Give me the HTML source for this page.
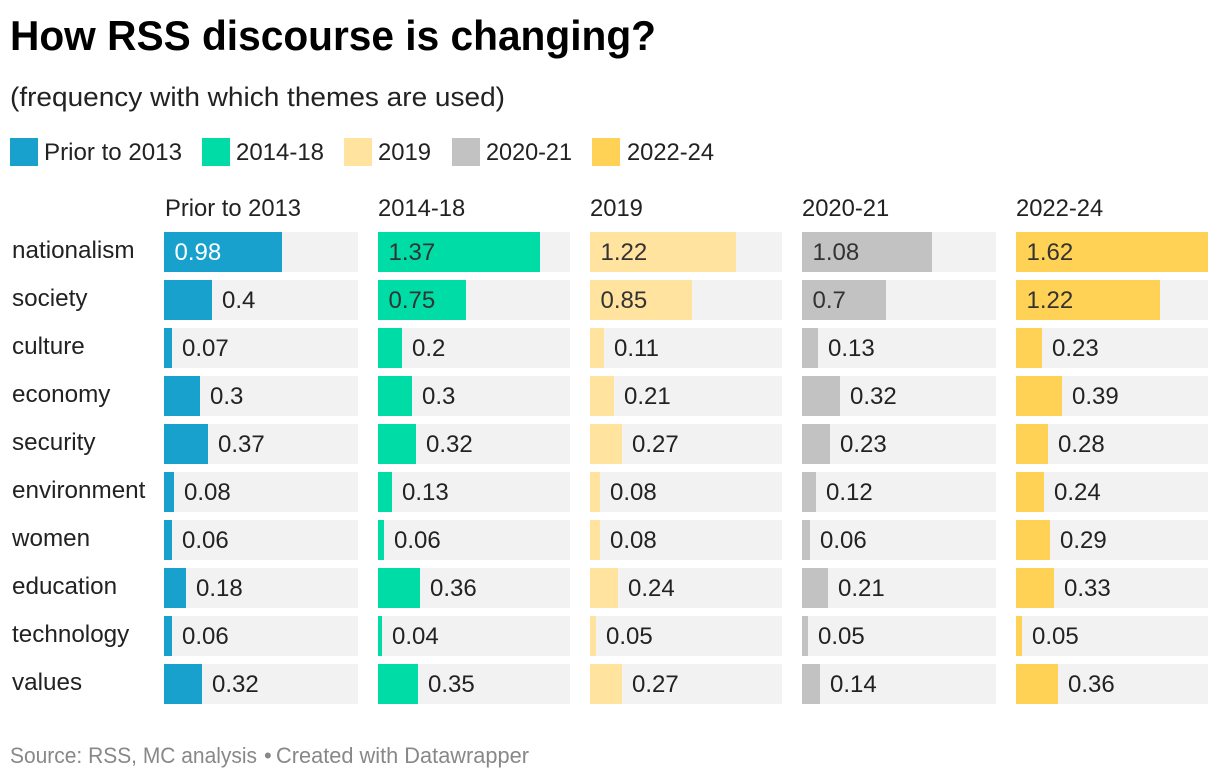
<!DOCTYPE html>
<html lang="en">
<head>
<meta charset="utf-8">
<title>How RSS discourse is changing?</title>
<style>
html,body{margin:0;padding:0;background:#fff;width:1220px;height:780px;overflow:hidden}
svg{display:block}
text{font-family:"Liberation Sans",sans-serif;fill:#222}
</style>
</head>
<body>
<svg id="chart" xmlns="http://www.w3.org/2000/svg" width="1220" height="780" viewBox="0 0 1220 780">
  <text x="10" y="50" font-size="42" font-weight="700" style="fill:#000" textLength="646" lengthAdjust="spacingAndGlyphs">How RSS discourse is changing?</text>
  <text x="10" y="106" font-size="27" textLength="495" lengthAdjust="spacingAndGlyphs">(frequency with which themes are used)</text>

  <g font-size="24">
    <rect x="10" y="138" width="28" height="28" fill="#18a1cd"/>
    <text x="44" y="160" textLength="138" lengthAdjust="spacingAndGlyphs">Prior to 2013</text>
    <rect x="202" y="138" width="28" height="28" fill="#00dca6"/>
    <text x="236" y="160" textLength="88" lengthAdjust="spacingAndGlyphs">2014-18</text>
    <rect x="344" y="138" width="28" height="28" fill="#ffe39f"/>
    <text x="378" y="160" textLength="53" lengthAdjust="spacingAndGlyphs">2019</text>
    <rect x="452" y="138" width="28" height="28" fill="#c2c2c2"/>
    <text x="486" y="160" textLength="86" lengthAdjust="spacingAndGlyphs">2020-21</text>
    <rect x="592" y="138" width="28" height="28" fill="#ffd155"/>
    <text x="627" y="160" textLength="87" lengthAdjust="spacingAndGlyphs">2022-24</text>
  </g>

  <g id="plot"></g>

  <g font-size="22" style="fill:#888">
    <text x="10" y="763" style="fill:#888" textLength="247" lengthAdjust="spacingAndGlyphs">Source: RSS, MC analysis</text>
    <text x="264" y="763" style="fill:#888">•</text>
    <text x="276" y="763" style="fill:#888" textLength="253" lengthAdjust="spacingAndGlyphs">Created with Datawrapper</text>
  </g>
</svg>

<script>
// Data
const themes = ["nationalism", "society", "culture", "economy", "security", "environment", "women", "education", "technology", "values"];
const periods = ["Prior to 2013", "2014-18", "2019", "2020-21", "2022-24"];
const priorTo2013 = [0.98, 0.4, 0.07, 0.3, 0.37, 0.08, 0.06, 0.18, 0.06, 0.32];
const y2014to18 = [1.37, 0.75, 0.2, 0.2951, 0.32, 0.126, 0.059, 0.36, 0.04, 0.3455];
const y2019 = [1.224, 0.853, 0.11, 0.21, 0.27, 0.08, 0.08, 0.24, 0.05, 0.27];
const y2020to21 = [1.08, 0.7, 0.13, 0.32, 0.23, 0.12, 0.06, 0.21, 0.05, 0.143];
const y2022to24 = [1.62, 1.22, 0.226, 0.39, 0.276, 0.24, 0.29, 0.326, 0.05, 0.36];
const seriesValues = [priorTo2013, y2014to18, y2019, y2020to21, y2022to24];

// Styling and layout
const seriesColors = ["#18a1cd", "#00dca6", "#ffe39f", "#c2c2c2", "#ffd155"];
const panelLeft = [164, 378, 590, 802, 1016];
const panelRight = [358, 570, 782, 996, 1208];
const rowTop = 232, rowStep = 48, rowHeight = 40;
const labelCondense = 1.01;
const headerCondense = 0.99;

const maxValue = Math.max.apply(null, seriesValues.map(function (s) { return Math.max.apply(null, s); }));
const NS = "http://www.w3.org/2000/svg";
const plot = document.getElementById("plot");

function yScale(rowIndex) { return rowTop + rowIndex * rowStep; }
function widthScale(value, panelIndex) {
  const full = panelRight[panelIndex] - panelLeft[panelIndex];
  return Math.round(value / maxValue * full / 2) * 2;
}
function formatValue(value) { return String(Math.round(value * 100) / 100); }
function slug(s) { return s.toLowerCase().replace(/[^a-z0-9]+/g, "-"); }
function makeText(x, y, str, size, color) {
  const t = document.createElementNS(NS, "text");
  t.setAttribute("x", x);
  t.setAttribute("y", y);
  t.setAttribute("font-size", size);
  if (color) t.style.fill = color;
  t.textContent = str;
  return t;
}

themes.forEach(function (theme, r) {
  const label = makeText(12, yScale(r) + 26, theme, 24);
  
  
  plot.appendChild(label);
  const natural = label.getComputedTextLength();
  label.setAttribute("textLength", (natural * labelCondense).toFixed(1));
  label.setAttribute("lengthAdjust", "spacingAndGlyphs");
});

periods.forEach(function (period, c) {
  const group = document.createElementNS(NS, "g");
  
  
  plot.appendChild(group);

  const header = makeText(panelLeft[c] + (c === 0 ? 1 : 0), 216, period, 24);
  
  
  group.appendChild(header);
  header.setAttribute("textLength", (header.getComputedTextLength() * headerCondense).toFixed(1));
  header.setAttribute("lengthAdjust", "spacingAndGlyphs");

  seriesValues[c].forEach(function (value, r) {
    const y = yScale(r);
    const x0 = panelLeft[c];

    const track = document.createElementNS(NS, "rect");
    
    
    track.setAttribute("x", x0);
    track.setAttribute("y", y);
    track.setAttribute("width", panelRight[c] - x0);
    track.setAttribute("height", rowHeight);
    track.setAttribute("fill", "#f2f2f2");
    group.appendChild(track);

    const w = widthScale(value, c);
    const bar = document.createElementNS(NS, "rect");
    
    
    bar.setAttribute("x", x0);
    bar.setAttribute("y", y);
    bar.setAttribute("width", w);
    bar.setAttribute("height", rowHeight);
    bar.setAttribute("fill", seriesColors[c]);
    group.appendChild(bar);

    const inside = w > 70;
    const color = inside ? (c === 0 ? "#fff" : "#333") : "#222";
    const vx = inside ? x0 + 10.5 : x0 + w + 10;
    const val = makeText(vx, y + 28, formatValue(value), 24, color);
    
    
    group.appendChild(val);
  });
});
</script>
</body>
</html>
